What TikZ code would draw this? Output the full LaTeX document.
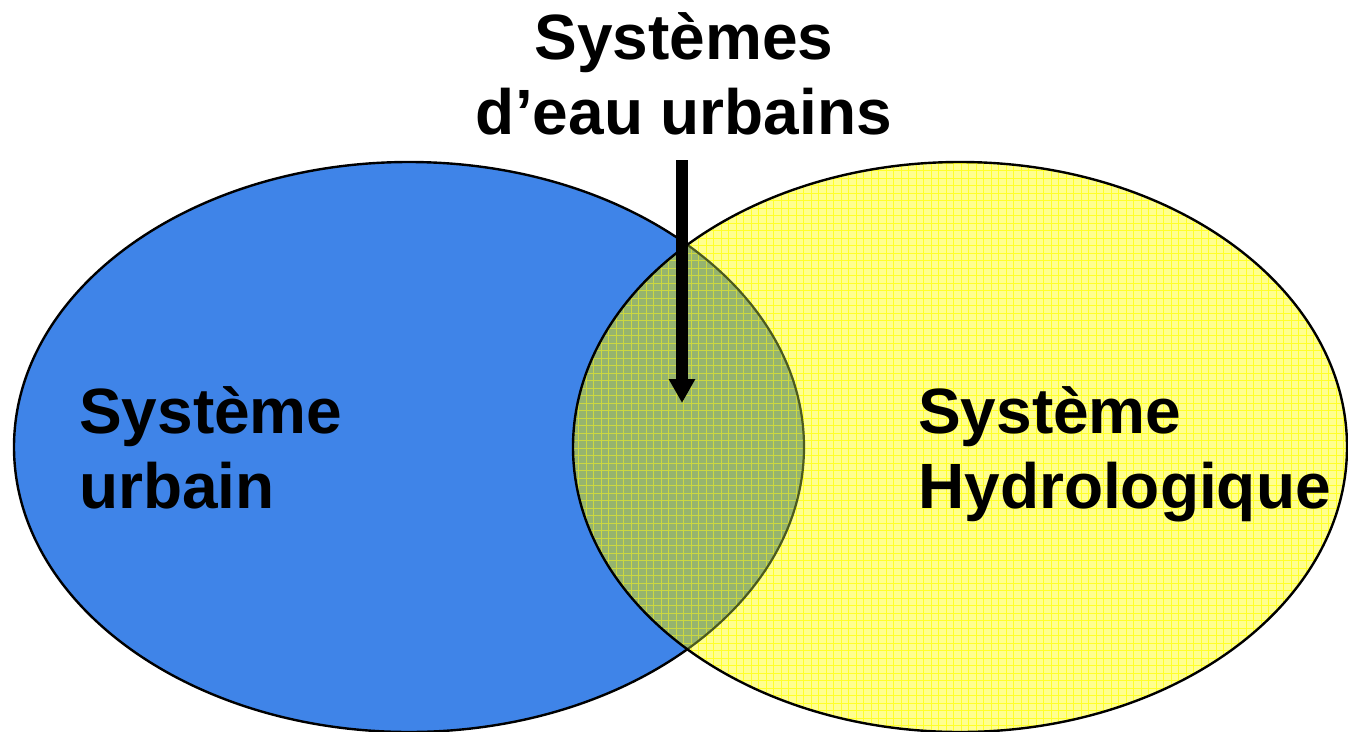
\documentclass[tikz,border=0pt]{standalone}
\usepackage{fontspec}
\setmainfont{Liberation Sans}
\usetikzlibrary{arrows.meta}
\definecolor{cblue}{HTML}{3F84E8}
\definecolor{cyel}{HTML}{FFFF90}
\definecolor{cgridy}{HTML}{FFFF2A}
\definecolor{cgreen}{HTML}{96B46E}
\definecolor{cgridg}{HTML}{CCD840}
\definecolor{cfade}{HTML}{4C5A1E}
\tikzset{
  lbl/.style={font=\fontsize{64}{75}\selectfont\bfseries, inner sep=0pt, align=left},
  rim/.style={draw=black, line width=2.4pt},
  pointer/.style={line width=12pt, -{Triangle[width=25pt,length=24pt]}},
}
\begin{document}
\begin{tikzpicture}[x=1pt,y=-1pt]
\useasboundingbox (0,0) rectangle (1348,731);
% left ellipse
\fill[cblue] (409,447) ellipse [x radius=395pt, y radius=285pt];
% right ellipse fill
\fill[cyel] (960,447) ellipse [x radius=387pt, y radius=285pt];
% intersection
\begin{scope}
  \clip (409,447) ellipse [x radius=395pt, y radius=285pt];
  \fill[cgreen] (960,447) ellipse [x radius=387pt, y radius=285pt];
\end{scope}
% grid on right ellipse
\begin{scope}
  \clip (960,447) ellipse [x radius=387pt, y radius=285pt];
  \foreach \x in {571,578.5,...,1348} \draw[cgridy, line width=0.9pt] (\x,160) -- (\x,735);
  \foreach \y in {163,170.5,...,735} \draw[cgridy, line width=0.9pt] (570,\y) -- (1350,\y);
  \begin{scope}
    \clip (409,447) ellipse [x radius=395pt, y radius=285pt];
    \foreach \x in {571,578.5,...,810} \draw[cgridg, line width=0.9pt] (\x,160) -- (\x,735);
    \foreach \y in {163,170.5,...,735} \draw[cgridg, line width=0.9pt] (570,\y) -- (810,\y);
  \end{scope}
  \draw[cfade, line width=2.2pt] (409,447) ellipse [x radius=395pt, y radius=285pt];
\end{scope}
% outlines
\begin{scope}
  \begin{scope}[even odd rule]
    \clip (960,447) ellipse [x radius=387pt, y radius=285pt] (-10,-10) rectangle (1360,745);
    \draw[rim] (409,447) ellipse [x radius=395pt, y radius=285pt];
  \end{scope}
  \draw[rim] (960,447) ellipse [x radius=387pt, y radius=285pt];
\end{scope}
% arrow
\coordinate (atop) at (682,160);
\coordinate (abot) at (682,403);
\draw[pointer] (atop) -- (abot);
% labels
\node[lbl, align=center, anchor=base] (swu) at (684,134) {Systèmes\\d’eau urbains};
\node[lbl, anchor=base west] (su) at (79,508) {Système\\urbain};
\node[lbl, anchor=base west] (sh) at (918,508) {Système\\Hydrologique};
\end{tikzpicture}
\end{document}
